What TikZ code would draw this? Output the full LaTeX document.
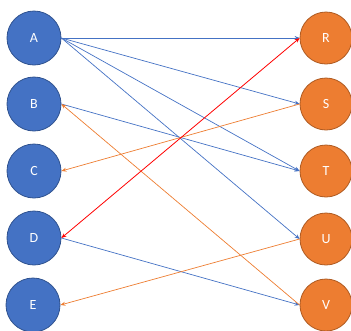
\documentclass[tikz,border=0pt]{standalone}
\usepackage{fontspec}
\setmainfont{Carlito}
\usetikzlibrary{arrows.meta}
\definecolor{nodeblue}{HTML}{4472C4}
\definecolor{blueedge}{HTML}{2F528F}
\definecolor{nodeorange}{HTML}{ED7D31}
\definecolor{orangeedge}{HTML}{AE5A21}
\definecolor{linkred}{HTML}{FF0000}
\tikzset{
  leftnode/.style={circle, fill=nodeblue, draw=blueedge, line width=0.8pt,
    minimum size=54pt, inner sep=0pt, text=white, font=\fontsize{14}{16}\selectfont},
  rightnode/.style={circle, fill=nodeorange, draw=orangeedge, line width=0.8pt,
    minimum size=52pt, inner sep=0pt, text=white, font=\fontsize{14}{16}\selectfont},
  tip/.style={-{Stealth[length=5pt,width=4pt]}},
  bluelink/.style={tip, draw=nodeblue, line width=0.7pt},
  orangelink/.style={tip, draw=nodeorange, line width=0.7pt},
  redlink/.style={{Stealth[length=5pt,width=4pt]}-{Stealth[length=5pt,width=4pt]}, draw=linkred, line width=0.8pt},
}
\begin{document}
\begin{tikzpicture}[x=1pt, y=-1pt]
  \useasboundingbox (0,0) rectangle (351,330);
  % left column
  \node[leftnode] (A) at (34,38) {A};
  \node[leftnode] (B) at (34,104) {B};
  \node[leftnode] (C) at (34,171) {C};
  \node[leftnode] (D) at (34,238) {D};
  \node[leftnode] (E) at (33,305) {E};
  % right column
  \node[rightnode] (R) at (326,38) {R};
  \node[rightnode] (S) at (326,104) {S};
  \node[rightnode] (T) at (326,171) {T};
  \node[rightnode] (U) at (326,239) {U};
  \node[rightnode] (V) at (326,305) {V};
  % links
  \draw[bluelink] (A.east) -- (R.west);
  \draw[bluelink] (A.east) -- (S.west);
  \draw[bluelink] (A.east) -- (T.west);
  \draw[bluelink] (A.east) -- (U.west);
  \draw[bluelink] (B.east) -- (T.west);
  \draw[bluelink] (D.east) -- (V.west);
  \draw[orangelink] (S.west) -- (C.east);
  \draw[orangelink] (V.west) -- (B.east);
  \draw[orangelink] (U.west) -- (E.east);
  \draw[redlink] (D.east) -- (R.west);
\end{tikzpicture}
\end{document}
